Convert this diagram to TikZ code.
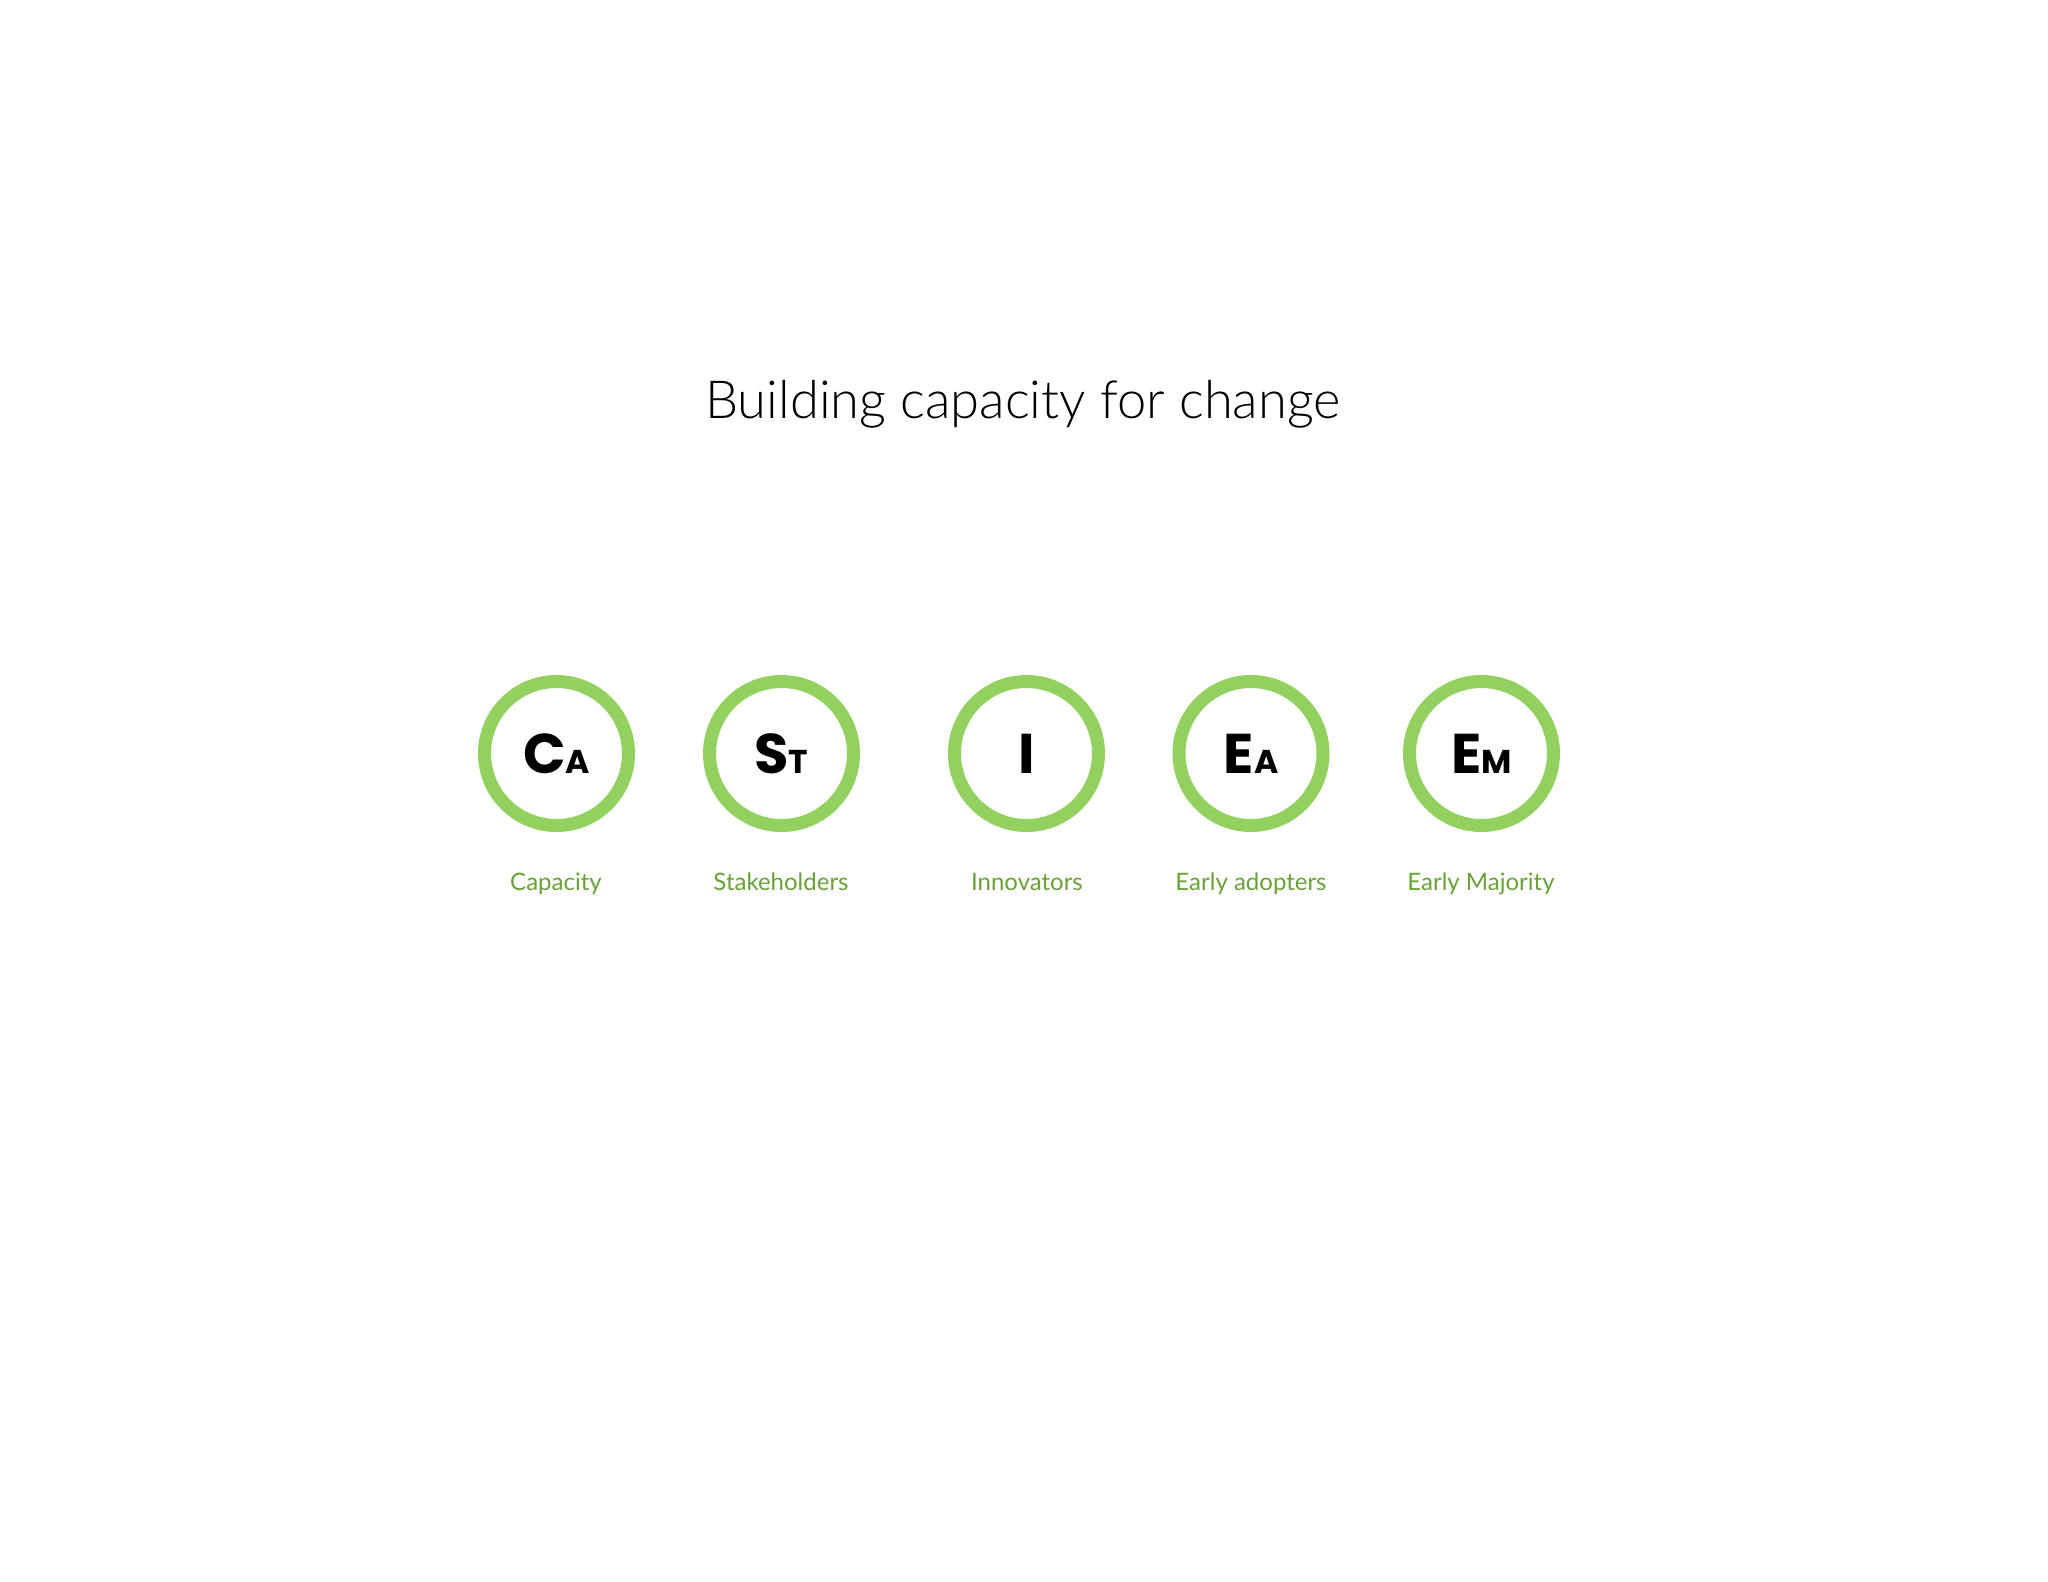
\documentclass[tikz,border=0pt]{standalone}
\usepackage{fontspec}
\setmainfont{Lato}
\newfontfamily\titlefont{Lato Light}
\newfontfamily\labelfont{Lato}
\newfontfamily\letterfont{Poppins}[UprightFont=* Bold]
\definecolor{ringgreen}{RGB}{146,208,96}
\definecolor{labelgreen}{RGB}{104,162,56}
\tikzset{
  ring/.style={circle, draw=ringgreen, line width=13pt, minimum size=144pt, inner sep=0pt,
    font=\letterfont\fontsize{56}{60}\selectfont, text=black},
  lbl/.style={anchor=base, text=labelgreen, font=\labelfont\fontsize{24}{30}\selectfont},
  ttl/.style={anchor=base, text=black, font=\titlefont\fontsize{52.5}{60}\selectfont}
}
\newcommand{\smc}[1]{{\fontsize{33}{36}\selectfont #1}}
\begin{document}
\begin{tikzpicture}[x=1pt,y=-1pt]
\useasboundingbox[fill=white] (0,0) rectangle (2048,1582);
\node[ttl] (title) at (1023,418) {Building capacity for change};
\node[ring] (ca) at (556.5,753.5) {C\smc{A}};
\node[ring] (st) at (781.5,753.5) {S\smc{T}};
\node[ring] (in) at (1026.5,753.5) {I};
\node[ring] (ea) at (1251,753.5) {E\smc{A}};
\node[ring] (em) at (1481.5,753.5) {E\smc{M}};
\node[lbl] (lca) at (556,890) {Capacity};
\node[lbl] (lst) at (781,890) {Stakeholders};
\node[lbl] (lin) at (1027,890) {Innovators};
\node[lbl] (lea) at (1251,890) {Early adopters};
\node[lbl] (lem) at (1481,890) {Early Majority};
\end{tikzpicture}
\end{document}
